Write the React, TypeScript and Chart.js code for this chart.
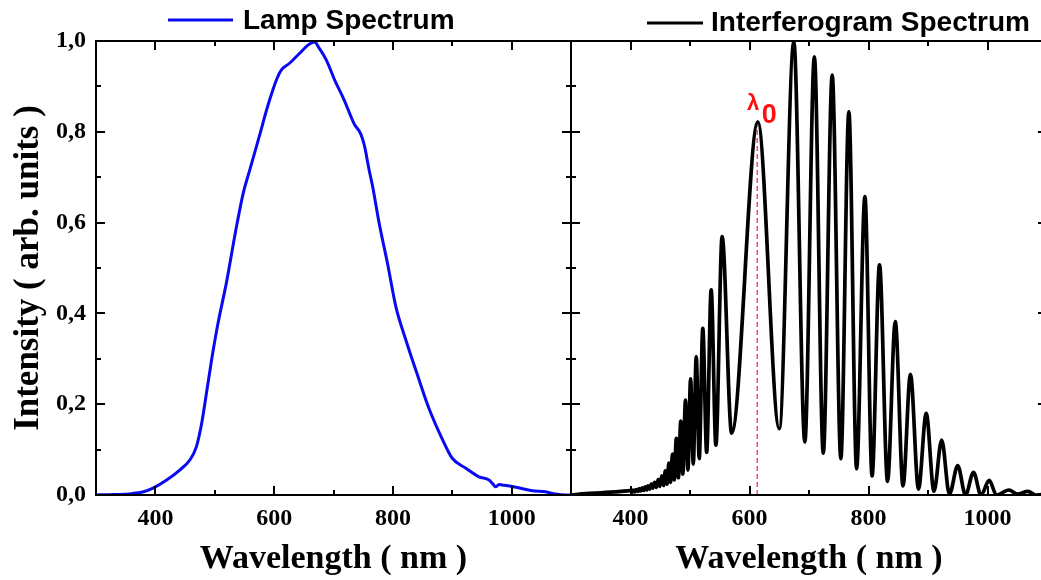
import React, { useEffect, useRef } from 'react';
import { Chart, registerables } from 'chart.js';

Chart.register(...registerables);

// ---------------- data ----------------
const lampWavelength = [
  300, 330, 360, 380, 396, 419, 441, 458, 469, 478, 486, 495, 505, 520, 535, 548, 559, 575, 590, 605,
  612, 626, 643, 657, 668, 676, 688, 702, 718, 735, 746, 752, 760, 766, 777, 791, 805, 822, 842, 861,
  884, 900, 923, 945, 962, 968, 973, 979, 984, 1007, 1035, 1057, 1074, 1091, 1100,
];
const lampIntensity = [
  0.0, 0.001, 0.003, 0.007, 0.015, 0.033, 0.055, 0.077, 0.106, 0.158, 0.224, 0.3, 0.375, 0.47, 0.58, 0.665, 0.716, 0.79, 0.86, 0.918,
  0.936, 0.951, 0.973, 0.991, 0.998, 0.984, 0.958, 0.914, 0.87, 0.817, 0.795, 0.77, 0.716, 0.679, 0.598, 0.51, 0.415, 0.341, 0.262, 0.19,
  0.121, 0.081, 0.059, 0.04, 0.033, 0.025, 0.018, 0.023, 0.022, 0.017, 0.0095, 0.007, 0.002, 0.0, 0.0,
];

const fringeWavelength = [
  300, 325, 350, 375, 395,
  400, 402, 404.5, 407, 409.5, 412, 414.5, 417, 419.5, 422, 424.5, 427, 429.5, 432, 435, 437.5,
  440.5, 443.5, 446.5, 449.5, 452.5, 455.5, 458.5, 461.5, 464.5, 467.5, 470.5, 473.5, 477, 480.5,
  484.5, 488, 492.4, 496.5, 501, 505.5, 510.5, 515.5, 521.5, 528, 535.6, 543.5, 554, 570,
  614, 650, 674.5, 693, 709, 724, 739, 753.5, 767, 780, 794, 806, 818.5, 832, 845, 858, 870.5, 884,
  897, 910, 923, 936, 950, 963, 976.5, 989, 1003, 1015, 1036, 1050, 1068, 1082, 1100,
];
const fringeIntensity = [
  0.0, 0.003, 0.005, 0.007, 0.009,
  0.01, 0.006, 0.011, 0.007, 0.012, 0.008, 0.014, 0.009, 0.016, 0.01, 0.018, 0.011, 0.02, 0.013, 0.024, 0.015,
  0.028, 0.017, 0.034, 0.019, 0.042, 0.021, 0.053, 0.024, 0.07, 0.028, 0.09, 0.033, 0.125, 0.038,
  0.163, 0.046, 0.209, 0.055, 0.256, 0.068, 0.305, 0.08, 0.367, 0.094, 0.452, 0.11, 0.569, 0.136,
  0.822, 0.146, 0.998, 0.117, 0.965, 0.092, 0.925, 0.08, 0.844, 0.058, 0.657, 0.042, 0.507, 0.03, 0.382, 0.02, 0.266, 0.013,
  0.18, 0.008, 0.121, 0.002, 0.065, 0.0, 0.05, 0.0, 0.032, 0.0, 0.011, 0.002, 0.008, 0.0, 0.002,
];

const lambda0Wavelength = [613, 613];
const lambda0Intensity = [0, 0.822];

const xMajorTicks = [400, 600, 800, 1000];
const xMinorTicks = [500, 700, 900];
const yMajorTicks = [0, 0.2, 0.4, 0.6, 0.8, 1.0];
const yMinorTicks = [0.1, 0.3, 0.5, 0.7, 0.9];
const xRange = [300, 1100];
const yRange = [0, 1];

const seriesNames = ['Lamp Spectrum', 'Interferogram Spectrum'];
const xTitle = 'Wavelength ( nm )';
const yTitle = 'Intensity ( arb. units )';
const lambdaSymbol = 'λ';
const lambdaSub = '0';

// ---------------- plugins ----------------
const SERIF = '"Liberation Serif", "Times New Roman", serif';
const SANS = '"Liberation Sans", Arial, sans-serif';

const framePlugin = {
  id: 'frame',
  afterDatasetsDraw(chart: any) {
    const { ctx, chartArea, scales } = chart;
    const { left, right, top, bottom } = chartArea;
    const x = scales.x;
    const y = scales.y;
    const seg = (x1: number, y1: number, x2: number, y2: number) => {
      ctx.beginPath();
      ctx.moveTo(x1, y1);
      ctx.lineTo(x2, y2);
      ctx.stroke();
    };
    ctx.save();
    ctx.strokeStyle = '#000';
    ctx.lineWidth = 2;
    ctx.lineCap = 'butt';
    seg(left, top, right, top);
    seg(left, bottom, right, bottom);
    seg(left, top - 1, left, bottom + 1);
    seg(right, top - 1, right, bottom + 1);
    const MAJ = 9;
    const MIN = 5;
    xMajorTicks.forEach((v) => {
      const px = Math.round(x.getPixelForValue(v));
      seg(px, bottom, px, bottom - MAJ);
      seg(px, top, px, top + MAJ);
    });
    xMinorTicks.forEach((v) => {
      const px = Math.round(x.getPixelForValue(v));
      seg(px, bottom, px, bottom - MIN);
      seg(px, top, px, top + MIN);
    });
    yMajorTicks.forEach((v) => {
      const py = Math.round(y.getPixelForValue(v));
      seg(left, py, left + MAJ, py);
      seg(right, py, right - MAJ, py);
    });
    yMinorTicks.forEach((v) => {
      const py = Math.round(y.getPixelForValue(v));
      seg(left, py, left + MIN, py);
      seg(right, py, right - MIN, py);
    });
    ctx.restore();
  },
};

const lineLegendPlugin = {
  id: 'lineLegend',
  afterDraw(chart: any, _args: any, opts: any) {
    const { ctx, chartArea } = chart;
    const ds = chart.data.datasets[0];
    const x0 = chartArea.left + opts.offsetX;
    ctx.save();
    ctx.strokeStyle = ds.borderColor;
    ctx.lineWidth = 3;
    ctx.beginPath();
    ctx.moveTo(x0, opts.lineY);
    ctx.lineTo(x0 + opts.lineLength, opts.lineY);
    ctx.stroke();
    ctx.font = `bold ${opts.fontSize}px ${SANS}`;
    ctx.fillStyle = '#000';
    ctx.textAlign = 'left';
    ctx.textBaseline = 'middle';
    ctx.fillText(ds.label, x0 + opts.lineLength + opts.gap, opts.textY);
    ctx.restore();
  },
};

const lambdaLabelPlugin = {
  id: 'lambdaLabel',
  afterDraw(chart: any) {
    const { ctx, scales } = chart;
    const px = scales.x.getPixelForValue(lambda0Wavelength[1]);
    const py = scales.y.getPixelForValue(lambda0Intensity[1]);
    ctx.save();
    ctx.fillStyle = '#ff1010';
    ctx.textAlign = 'center';
    ctx.textBaseline = 'middle';
    ctx.font = `bold 22px ${SANS}`;
    ctx.fillText(lambdaSymbol, px - 4, py - 18);
    ctx.font = `bold 27px ${SANS}`;
    ctx.fillText(lambdaSub, px + 12, py - 6);
    ctx.restore();
  },
};

// ---------------- chart builders ----------------
function xScale() {
  return {
    type: 'linear',
    min: xRange[0],
    max: xRange[1],
    afterBuildTicks: (s: any) => {
      s.ticks = xMajorTicks.map((value) => ({ value }));
    },
    grid: { display: false, drawTicks: false },
    border: { display: false },
    ticks: {
      color: '#000',
      padding: 9,
      autoSkip: false,
      maxRotation: 0,
      font: { family: SERIF, weight: 'bold', size: 24 },
      callback: (v: any) => String(v),
    },
    title: {
      display: true,
      text: xTitle,
      color: '#000',
      font: { family: SERIF, weight: 'bold', size: 34 },
      padding: { top: 0, bottom: 0 },
    },
    afterFit: (s: any) => {
      s.height = 85;
    },
  };
}

function yScale(showLabels: boolean) {
  return {
    type: 'linear',
    min: yRange[0],
    max: yRange[1],
    display: showLabels,
    afterBuildTicks: (s: any) => {
      s.ticks = yMajorTicks.map((value) => ({ value }));
    },
    grid: { display: false, drawTicks: false },
    border: { display: false },
    ticks: {
      color: '#000',
      padding: 10,
      font: { family: SERIF, weight: 'bold', size: 24 },
      callback: (v: any) => Number(v).toFixed(1).replace('.', ','),
    },
    title: {
      display: showLabels,
      text: yTitle,
      color: '#000',
      font: { family: SERIF, weight: 'bold', size: 35 },
      padding: { top: 8, bottom: 0 },
    },
    afterFit: (s: any) => {
      s.width = showLabels ? 96 : 0;
    },
  };
}

export default function App() {
  const leftRef = useRef<HTMLCanvasElement | null>(null);
  const rightRef = useRef<HTMLCanvasElement | null>(null);

  useEffect(() => {
    const lampData = lampWavelength.map((x, i) => ({ x, y: lampIntensity[i] }));
    const fringeData = fringeWavelength.map((x, i) => ({ x, y: fringeIntensity[i] }));
    const markerData = lambda0Wavelength.map((x, i) => ({ x, y: lambda0Intensity[i] }));

    const left = new Chart(leftRef.current as HTMLCanvasElement, {
      type: 'line',
      data: {
        datasets: [
          {
            label: seriesNames[0],
            data: lampData,
            borderColor: '#0a0af0',
            borderWidth: 3,
            pointRadius: 0,
            cubicInterpolationMode: 'monotone',
            borderJoinStyle: 'round',
          },
        ],
      },
      options: {
        responsive: false,
        animation: false,
        devicePixelRatio: 1,
        layout: { padding: { top: 41, left: 0, right: 4, bottom: 0 } },
        plugins: {
          legend: { display: false },
          tooltip: { enabled: false },
          lineLegend: { offsetX: 72, lineLength: 65, gap: 10, lineY: 20, textY: 21, fontSize: 28 },
        },
        scales: { x: xScale(), y: yScale(true) },
      } as any,
      plugins: [framePlugin, lineLegendPlugin],
    });

    const right = new Chart(rightRef.current as HTMLCanvasElement, {
      type: 'line',
      data: {
        datasets: [
          {
            label: seriesNames[1],
            data: fringeData,
            borderColor: '#000000',
            borderWidth: 3.7,
            pointRadius: 0,
            cubicInterpolationMode: 'monotone',
            borderJoinStyle: 'round',
            order: 0,
          },
          {
            label: 'λ0',
            data: markerData,
            borderColor: '#ee5560',
            borderWidth: 1.5,
            borderDash: [5, 3],
            pointRadius: 0,
            order: 1,
          },
        ],
      },
      options: {
        responsive: false,
        animation: false,
        devicePixelRatio: 1,
        layout: { padding: { top: 41, left: 11, right: 13, bottom: 0 } },
        plugins: {
          legend: { display: false },
          tooltip: { enabled: false },
          lineLegend: { offsetX: 76, lineLength: 56, gap: 8, lineY: 23, textY: 23, fontSize: 28 },
        },
        scales: { x: xScale(), y: yScale(false) },
      } as any,
      plugins: [framePlugin, lineLegendPlugin, lambdaLabelPlugin],
    });

    return () => {
      left.destroy();
      right.destroy();
    };
  }, []);

  return (
    <div
      style={{
        position: 'fixed',
        left: 0,
        top: 0,
        width: 1041,
        height: 580,
        overflow: 'hidden',
        background: '#ffffff',
      }}
    >
      <canvas ref={leftRef} width={575} height={580} style={{ position: 'absolute', left: 0, top: 0 }} />
      <canvas ref={rightRef} width={500} height={580} style={{ position: 'absolute', left: 560, top: 0 }} />
    </div>
  );
}
